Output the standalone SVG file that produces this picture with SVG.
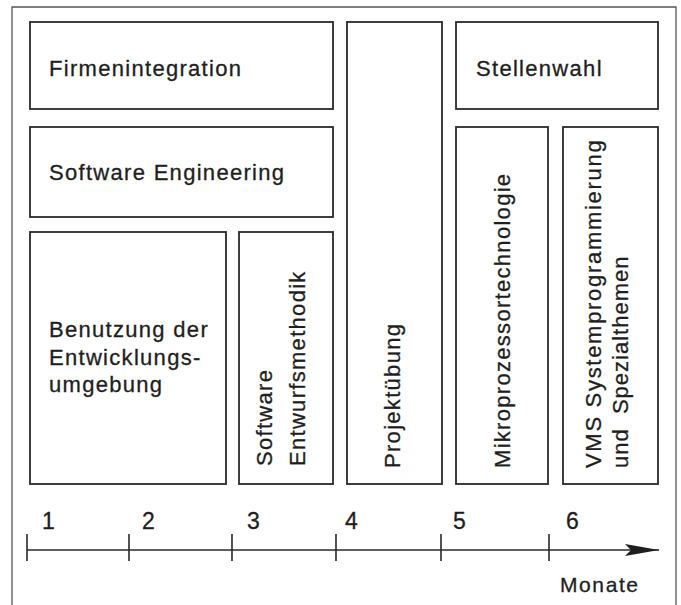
<svg xmlns="http://www.w3.org/2000/svg" width="681" height="605" viewBox="0 0 681 605">
<style>
.box{fill:#fff;stroke:#2a2a2a;stroke-width:1.8}
.t{font-family:"Liberation Sans",Arial,sans-serif;font-size:22px;fill:#1e1e1e;stroke:#1e1e1e;stroke-width:0.3;letter-spacing:1.3px}
.d{font-size:23px}
.ax{stroke:#2a2a2a;stroke-width:1.6;fill:none}
</style>
<defs>
<marker id="arr" markerWidth="36" markerHeight="14" refX="34" refY="6" orient="auto" markerUnits="userSpaceOnUse">
<path d="M0,0 L34,6 L0,12 L6,6 Z" fill="#1e1e1e"/>
</marker>
</defs>
<rect width="681" height="605" fill="#fff"/>
<path d="M12,612 V7 H676 V612" fill="none" stroke="#555" stroke-width="1.3"/>
<g id="firmenintegration"><rect class="box" x="30" y="22" width="303" height="87"/><text class="t" x="49" y="76">Firmenintegration</text></g>
<g id="software-engineering"><rect class="box" x="30" y="127" width="303" height="90"/><text class="t" x="49" y="180">Software Engineering</text></g>
<g id="benutzung"><rect class="box" x="30" y="232" width="196" height="252"/><text class="t" x="49" y="337">Benutzung der</text><text class="t" x="49" y="365">Entwicklungs-</text><text class="t" x="49" y="392">umgebung</text></g>
<g id="entwurfsmethodik"><rect class="box" x="239" y="232" width="94" height="252"/><text class="t" transform="translate(272,466) rotate(-90)">Software</text><text class="t" transform="translate(305,466) rotate(-90)">Entwurfsmethodik</text></g>
<g id="projektuebung"><rect class="box" x="347" y="22" width="95" height="462"/><text class="t" transform="translate(400,468) rotate(-90)">Projektübung</text></g>
<g id="stellenwahl"><rect class="box" x="456" y="22" width="202" height="87"/><text class="t" x="476" y="76">Stellenwahl</text></g>
<g id="mikroprozessortechnologie"><rect class="box" x="456" y="127" width="92" height="357"/><text class="t" transform="translate(510,468) rotate(-90)">Mikroprozessortechnologie</text></g>
<g id="vms"><rect class="box" x="563" y="127" width="95" height="357"/><text class="t" transform="translate(601,468) rotate(-90)" style="letter-spacing:1.7px">VMS Systemprogrammierung</text><text class="t" transform="translate(628,468) rotate(-90)" style="letter-spacing:1px" xml:space="preserve">und  Spezialthemen</text></g>
<g id="connectors">
<line class="ax" x1="27" y1="550" x2="659" y2="550" marker-end="url(#arr)"/>
<path class="ax" d="M27,534 V561 M129,534 V561 M232,534 V561 M336,534 V561 M441,534 V561 M549,534 V561"/>
</g>
<g id="axis-labels">
<text class="t d" x="42" y="529">1</text>
<text class="t d" x="142" y="529">2</text>
<text class="t d" x="247" y="529">3</text>
<text class="t d" x="345" y="529">4</text>
<text class="t d" x="453" y="529">5</text>
<text class="t d" x="566" y="529">6</text>
<text class="t" x="560" y="592" style="font-size:21px;letter-spacing:1.6px">Monate</text>
</g>
</svg>
